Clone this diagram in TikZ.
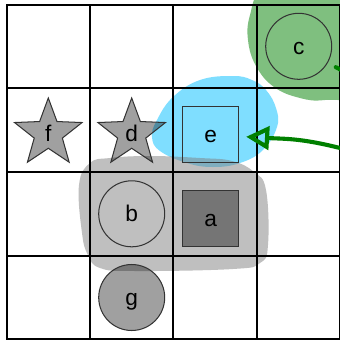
\documentclass[tikz,border=0pt]{standalone}
\usepackage{fontspec}
\setmainfont{Liberation Sans}
\usetikzlibrary{shapes.geometric,arrows.meta}
\definecolor{skyblob}{RGB}{0,191,255}
\definecolor{darkgreen}{RGB}{0,128,0}
\begin{document}
\begin{tikzpicture}[x=0.024cm, y=-0.024cm,
  lbl/.style={font=\fontsize{15.5}{18}\selectfont, text=black, text opacity=1},
  sq/.style={lbl, draw=black!80, line width=0.7pt, rectangle, minimum size=56*0.024cm, inner sep=0pt, text height=0.39cm, text depth=0cm},
  circ/.style={lbl, draw=black!80, line width=0.7pt, circle, minimum size=66*0.024cm, inner sep=0pt, text height=0.39cm, text depth=0cm},
  starnode/.style={lbl, draw=black!80, line width=0.7pt, star, star points=5, star point ratio=2.4, minimum size=71*0.024cm, inner sep=0pt, fill=black, fill opacity=0.373},
  blob/.style={fill opacity=0.5},
  gridline/.style={line width=1.4pt, black, line cap=rect},
  flow/.style={darkgreen, line width=2.8pt, line cap=round, line join=round, -{Triangle[open, length=0.55cm, width=0.56cm]}}
]
\useasboundingbox (0,0) rectangle (340,341);
\clip (0,0) rectangle (340,341);
\fill[white] (0,0) rectangle (340,341);

% blobs
\fill[blob, darkgreen] plot[smooth cycle, tension=0.7] coordinates {
  (262,-10) (250,15) (248,40) (256,66) (274,87) (300,98) (325,100) (360,92) (372,40) (352,-12) (300,-22)};
\fill[blob, skyblob] plot[smooth cycle, tension=0.7] coordinates {
  (233,76) (200,80) (173,97) (157,120) (152,137) (160,151) (187,163) (213,167) (240,163) (263,150) (277,127) (276,108) (266,90) (252,80)};
\fill[blob, gray] plot[smooth cycle, tension=0.7] coordinates {
  (90,163) (79,185) (82,233) (88,255) (100,268) (135,271) (233,269) (260,263) (268,245) (266,190) (254,172) (232,161) (200,158) (150,156) (110,158)};

% nodes
\node[circ] (c) at (298.7,46.3) {c};
\node[starnode] (f) at (48.3,133.5) {f};
\node[starnode] (d) at (131.7,133.5) {d};
\node[sq] (e) at (210.7,134.7) {e};
\node[circ] (b) at (131.7,213.8) {b};
\node[sq, fill=black, fill opacity=0.385] (a) at (210.7,218.5) {a};
\node[circ, fill=black, fill opacity=0.373] (g) at (131.7,297.5) {g};

% grid
\draw[gridline] (6.7,5) rectangle (340,339.3);
\foreach \v in {90,173.3,256.7} {
  \draw[gridline] (\v,5) -- (\v,339.3);
}
\foreach \h in {88.3,172.3,255.7} {
  \draw[gridline] (6.7,\h) -- (340,\h);
}

% connector
\draw[flow, shorten <=9*0.024cm, shorten >=7*0.024cm] (c.-30) .. controls (420,110) and (400,165) .. (340,148) .. controls (300,138) and (285,139) .. (e);
\end{tikzpicture}
\end{document}
